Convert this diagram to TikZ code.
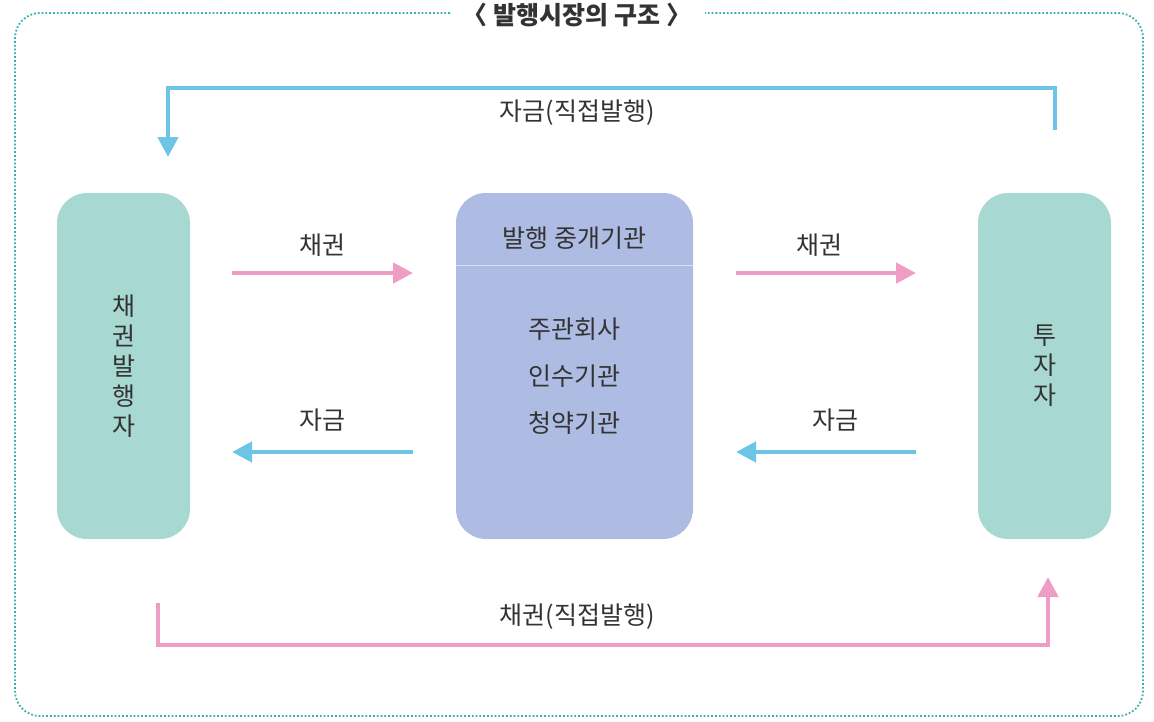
\documentclass[tikz,border=0pt]{standalone}
\usepackage{fontspec}
\setmainfont{Noto Sans CJK KR}
\usetikzlibrary{arrows.meta}
\definecolor{teal1}{HTML}{3AAFB0}
\definecolor{boxg}{HTML}{A8D8D2}
\definecolor{boxb}{HTML}{AEBCE3}
\definecolor{pinkc}{HTML}{EE9DC4}
\definecolor{bluec}{HTML}{6EC4E4}
\definecolor{txt}{HTML}{333333}
\tikzset{
 px/.style={x=1pt,y=-1pt},
 sidebox/.style={fill=boxg,rounded corners=30pt,minimum width=133pt,minimum height=346pt,text=txt,font=\fontsize{25}{30}\selectfont,align=center},
 midbox/.style={fill=boxb,rounded corners=30pt,minimum width=237pt,minimum height=346pt},
 lbl/.style={text=txt,font=\fontsize{25}{30}\selectfont},
 parr/.style={draw=pinkc,line width=4.5pt,-{Triangle[length=20pt,width=20pt]}},
 barr/.style={draw=bluec,line width=4.5pt,-{Triangle[length=20pt,width=20pt]}},
}
\begin{document}
\begin{tikzpicture}[px]
\useasboundingbox (0,0) rectangle (1154,721);
\draw[teal1,line width=1.8pt,dotted,rounded corners=25pt] (450,13) -- (15,13) -- (15,716) -- (1143,716) -- (1143,13) -- (705,13);
\node[text=txt,font=\bfseries\fontsize{25}{30}\selectfont] (title) at (577,15) {〈 발행시장의 구조 〉};
\node[sidebox] (iss) at (123.5,366) {채\\권\\발\\행\\자};
\node[sidebox] (inv) at (1044.5,366) {투\\자\\자};
\node[midbox] (mid) at (574.5,366) {};
\draw[white!50!boxb,line width=0.8pt] (456,265) -- (693,265);
\node[lbl] (midt) at (574.5,238) {발행 중개기관};
\node[lbl,align=center,font=\fontsize{25}{47}\selectfont] (midb) at (574.5,376) {주관회사\\인수기관\\청약기관};
\coordinate (a1) at (232,273); \coordinate (a2) at (413,273);
\coordinate (b1) at (413,452); \coordinate (b2) at (232,452);
\coordinate (c1) at (736,273); \coordinate (c2) at (916,273);
\coordinate (d1) at (916,452); \coordinate (d2) at (736,452);
\draw[parr] (a1) -- (a2); \draw[barr] (b1) -- (b2);
\draw[parr] (c1) -- (c2); \draw[barr] (d1) -- (d2);
\node[lbl] at (322,245) {채권};
\node[lbl] at (322,420) {자금};
\node[lbl] at (819,245) {채권};
\node[lbl] at (835,420) {자금};
\coordinate (t1) at (1055,130); \coordinate (t2) at (168,157);
\draw[barr] (t1) -- (1055,88) -- (168,88) -- (t2);
\coordinate (u1) at (158,603); \coordinate (u2) at (1048,577);
\draw[parr] (u1) -- (158,645) -- (1048,645) -- (u2);
\node[lbl] at (577,113) {자금(직접발행)};
\node[lbl] at (577,617) {채권(직접발행)};
\end{tikzpicture}
\end{document}
